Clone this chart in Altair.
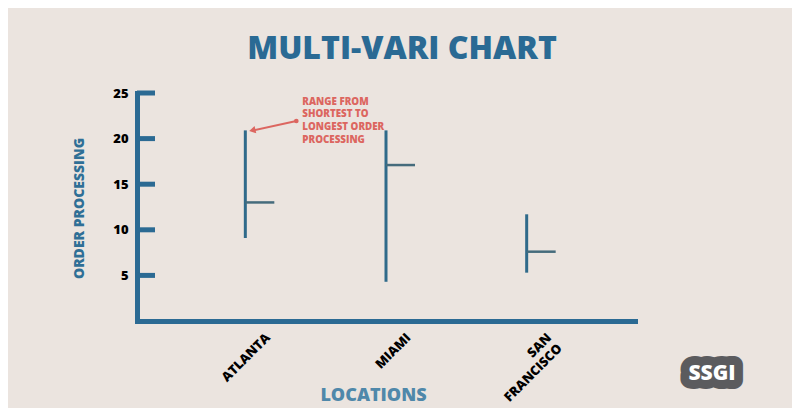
import altair as alt
import pandas as pd

# ---- data ----
locations = ["ATLANTA", "MIAMI", "SAN FRANCISCO"]
min_values = [9.1, 4.3, 5.3]
max_values = [20.9, 20.9, 11.7]
mean_values = [13.0, 17.1, 7.6]
y_ticks = [5, 10, 15, 20, 25]
annotation_lines = ["RANGE FROM", "SHORTEST TO", "LONGEST ORDER", "PROCESSING"]
arrow_from = 21.93
arrow_to = 20.9
annotation_y = 24.6

df = pd.DataFrame({"location": locations, "low": min_values,
                   "high": max_values, "mean": mean_values})
ticks_df = pd.DataFrame({"tick": y_ticks})
one = pd.DataFrame({"k": [0]})

BLUE = "#2b6a93"
RANGE = "#2f6a8a"
MEAN = "#456b7c"
RED = "#dc6660"
FONT = "Open Sans"

xscale = alt.Scale(type="point", domain=locations, padding=0.77)
yscale = alt.Scale(domain=[0, 25], nice=False, zero=True)

x_axis = alt.Axis(
    title="LOCATIONS", titleColor="#4f88aa", titleFont=FONT, titleFontSize=18,
    titleFontWeight=800, titleX=236, titleY=74, titleBaseline="middle", titleAlign="center",
    labelAngle=-45, labelAlign="right", labelBaseline="top", labelOffset=18,
    labelPadding=10, labelColor="black", labelFont=FONT, labelFontSize=13,
    labelFontWeight=800, labelExpr="split(datum.label, ' ')", labelLineHeight=15,
    domainColor=BLUE, domainWidth=5, domainCap="square", ticks=False, grid=False,
)
y_axis = alt.Axis(
    values=y_ticks, title="ORDER PROCESSING", ticks=False, grid=False,
    domainColor=BLUE, domainWidth=5, domainCap="square", labelPadding=9,
    labelFont=FONT, labelFontSize=13, labelFontWeight=800, labelColor="black",
    titleColor="#2f6f96", titleFont=FONT, titleFontSize=14, titleFontWeight=800,
    titleX=-58, titleY=115, titleAngle=270, titleBaseline="middle", titleAlign="center",
)

ranges = alt.Chart(df).mark_rule(color=RANGE, strokeWidth=3).encode(
    x=alt.X("location:N", scale=xscale, axis=x_axis),
    y=alt.Y("low:Q", scale=yscale, axis=y_axis),
    y2="high:Q",
)

means = alt.Chart(df).mark_rule(color=MEAN, strokeWidth=2.5, x2Offset=29).encode(
    x=alt.X("location:N", scale=xscale),
    x2="location:N",
    y=alt.Y("mean:Q", scale=yscale),
)

axis_ticks = alt.Chart(ticks_df).mark_rule(color=BLUE, strokeWidth=5).encode(
    y=alt.Y("tick:Q", scale=yscale),
    x=alt.value(0),
    x2=alt.value(18),
)

note = alt.Chart(one).mark_text(
    align="left", baseline="top", dx=57, font=FONT, fontSize=9.8, fontWeight=800,
    color=RED, lineHeight=12.8, text=annotation_lines,
).encode(x=alt.datum("ATLANTA"), y=alt.datum(annotation_y))

arrow_line = alt.Chart(one).mark_rule(
    color=RED, strokeWidth=2, xOffset=8, x2Offset=51,
).encode(
    x=alt.datum("ATLANTA"), x2=alt.datum("ATLANTA"),
    y=alt.datum(arrow_to), y2=alt.datum(arrow_from),
)

arrow_head = alt.Chart(one).mark_point(
    shape="triangle-up", filled=True, size=55, color=RED, opacity=1,
    angle=257, xOffset=7,
).encode(x=alt.datum("ATLANTA"), y=alt.datum(arrow_to))

arrow_dot = alt.Chart(one).mark_point(
    shape="circle", filled=True, size=22, color=RED, opacity=1, xOffset=51,
).encode(x=alt.datum("ATLANTA"), y=alt.datum(arrow_from))

logo_bg = alt.Chart(one).mark_text(
    text="SSGI", font=FONT, fontSize=21, fontWeight=800, color="#5b5b5e",
    stroke="#5b5b5e", strokeWidth=18, strokeJoin="round",
).encode(x=alt.value(575), y=alt.value(281))
logo = alt.Chart(one).mark_text(
    text="SSGI", font=FONT, fontSize=21, fontWeight=800, color="white",
).encode(x=alt.value(575), y=alt.value(281))

chart = alt.layer(
    ranges, means, axis_ticks, note, arrow_line, arrow_head, arrow_dot, logo_bg, logo
).properties(
    width=498, height=228,
    padding={"left": 129, "top": 85, "right": 157, "bottom": 87},
    autosize=alt.AutoSizeParams(type="none"),
    title=alt.TitleParams(
        "MULTI-VARI CHART", font=FONT, fontSize=32, fontWeight=900, color="#2a6a94",
        anchor="middle", dx=16, dy=42, offset=31, baseline="bottom",
    ),
).configure(background="#ebe4df").configure_view(stroke=None)

chart.save("out.html", embed_options={"renderer": "svg", "actions": False})
